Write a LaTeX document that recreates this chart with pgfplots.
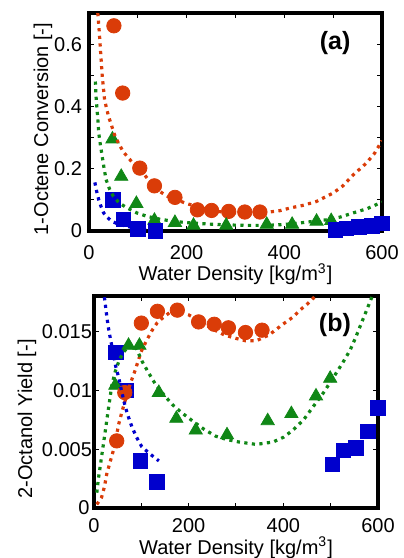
\documentclass[border=0pt]{standalone}
\usepackage{fontspec}
\setmainfont{Liberation Sans}
\usepackage{pgfplots}
\pgfplotsset{compat=1.18}

\definecolor{cred}{RGB}{218,60,8}
\definecolor{cgreen}{RGB}{16,135,22}
\definecolor{cblue}{RGB}{0,0,205}

\pgfplotsset{
  panel/.style={
    scale only axis,
    anchor=south west,
    xmin=0, xmax=600,
    axis line style={line width=2pt},
    tick style={line width=0.5pt, black},
    major tick length=2.6pt, minor tick length=2.6pt,
    tick align=inside,
    xtick={0,200,400,600}, minor xtick={100,300,500},
    xticklabels={0,200,400,600},
    scaled y ticks=false,
    /pgf/number format/assume math mode=true,
    tick label style={font=\fontsize{10}{12}\selectfont},
    label style={font=\fontsize{10.3}{12}\selectfont},
    clip mode=individual,
    xlabel={Water Density [kg/m\textsuperscript{3}]},
  },
  dotline/.style={line width=1.6pt, dash pattern=on 1.6pt off 2.2pt, no markers},
  rc/.style={only marks, mark=*, mark size=3.6pt, color=cred},
  gt/.style={only marks, mark=triangle*, mark size=3.8pt, color=cgreen},
  bs/.style={only marks, mark=square*, mark size=3.6pt, color=cblue},
}

\begin{document}
\begin{tikzpicture}
\path[use as bounding box] (0,0) rectangle (201.5pt,-279pt);

% ---------- (a) ----------
\begin{axis}[panel,
  at={(44.5pt,-115.5pt)}, width=146.5pt, height=109pt,
  ymin=0, ymax=0.7,
  ytick={0,0.2,0.4,0.6}, minor ytick={0.1,0.3,0.5},
  yticklabels={0,0.2,0.4,0.6},
  xticklabel style={anchor=north, yshift=-3.8pt},
  ylabel={1-Octene Conversion [-]},
  every axis y label/.style={at={(axis description cs:-0.157,0.468)}, rotate=90, anchor=center},
  every axis x label/.style={at={(axis description cs:0.5,-0.229)}, anchor=base},
]
\addplot[rc] coordinates {(51,0.659) (69,0.443) (104,0.202) (134,0.145) (176,0.108)
  (222,0.068) (251,0.066) (286,0.063) (319,0.061) (350,0.061)};
\addplot[gt] coordinates {(48,0.295) (66,0.175) (97,0.088) (134,0.034) (176,0.027)
  (214,0.018) (281,0.018) (364,0.021) (416,0.021) (466,0.031) (496,0.033)};
\addplot[bs] coordinates {(49,0.10) (71,0.038) (100,0.007) (136,0.0)
  (504,0.004) (527,0.009) (553,0.013) (579,0.017) (600,0.024)};
\addplot[dotline, cred] coordinates {(18,0.70) (21,0.64) (23,0.593) (27,0.50) (32,0.42)
  (40,0.368) (46,0.34) (52,0.31) (61,0.28) (70,0.255) (81,0.234) (92,0.215) (105,0.197)
  (120,0.168) (139,0.133) (160,0.112) (180,0.10) (200,0.088) (221,0.079) (240,0.070)
  (262,0.063) (290,0.059) (320,0.058) (364,0.060) (390,0.065) (412,0.074) (440,0.083)
  (466,0.095) (500,0.122) (520,0.145) (541,0.18) (568,0.218) (585,0.25) (600,0.29)};
\addplot[dotline, cgreen] coordinates {(13,0.48) (14,0.44) (16,0.40) (18,0.36) (20,0.314)
  (23,0.28) (27,0.24) (31,0.20) (35,0.165) (42,0.135) (50,0.111) (62,0.09) (78,0.074)
  (98,0.058) (119,0.047) (145,0.038) (173,0.031) (200,0.027) (228,0.024) (260,0.021)
  (296,0.019) (330,0.018) (364,0.018) (400,0.021) (432,0.026) (460,0.031) (487,0.036)
  (515,0.045) (541,0.058) (570,0.072) (596,0.09) (600,0.093)};
\addplot[dotline, cblue] coordinates {(12,0.156) (16,0.125) (20,0.10) (25,0.077) (30,0.058)
  (38,0.043) (47,0.031) (60,0.022) (78,0.015) (95,0.009) (112,0.004) (130,0.001) (140,0.0)};
\node[font=\bfseries\fontsize{12.5}{14}\selectfont] at (axis cs:504,0.603) {(a)};
\end{axis}

% ---------- (b) ----------
\begin{axis}[panel,
  at={(47pt,-254pt)}, width=142pt, height=106pt,
  ymin=0, ymax=0.018,
  ytick={0,0.005,0.01,0.015},
  yticklabels={0\kern1.2pt,0.005,0.01,0.015},
  xticklabel style={anchor=north, yshift=-1.8pt},
  yticklabel style={anchor=east, xshift=2.5pt},
  ylabel={2-Octanol Yield [-]},
  every axis y label/.style={at={(axis description cs:-0.236,0.42)}, rotate=90, anchor=center},
  every axis x label/.style={at={(axis description cs:0.5,-0.217)}, anchor=base},
]
\addplot[bs] coordinates {(46,0.0132) (68,0.0100) (98,0.0040) (133,0.0022)
  (504,0.0037) (527,0.0049) (553,0.0051) (579,0.0065) (600,0.0085)};
\addplot[gt] coordinates {(45,0.0104) (73,0.0138) (96,0.0138) (137,0.0098) (174,0.0076)
  (215,0.0066) (281,0.0062) (367,0.0074) (417,0.0080) (469,0.0095) (499,0.0110)};
\addplot[rc] coordinates {(48,0.0057) (65,0.0098) (100,0.0157) (134,0.0167) (176,0.0168)
  (221,0.0158) (254,0.0156) (284,0.0153) (320,0.0149) (355,0.0151)};
\addplot[dotline, cred] coordinates {(6,0.0003) (16,0.0009) (22,0.0018) (27,0.0029) (34,0.0039)
  (41,0.0049) (47,0.006) (52,0.0071) (60,0.0083) (70,0.0097) (78,0.0107) (87,0.0117)
  (95,0.0127) (101,0.0134) (112,0.0143) (123,0.0151) (133,0.0157) (144,0.0161) (160,0.0166)
  (179,0.0167) (200,0.0164) (222,0.0159) (250,0.0152) (275,0.0147) (300,0.0144)
  (320,0.0142) (343,0.0142) (370,0.0147) (399,0.0156) (420,0.0162) (435,0.0168)
  (450,0.0173) (463,0.0178) (470,0.0181)};
\addplot[dotline, cgreen] coordinates {(6,0.0013) (9,0.0024) (13,0.0035) (18,0.0049) (23,0.0063)
  (30,0.0083) (38,0.0105) (45,0.0116) (52,0.0124) (60,0.0131) (70,0.0136) (80,0.0139)
  (90,0.0135) (101,0.0125) (115,0.0115) (130,0.0105) (148,0.0096) (165,0.0088) (185,0.0081)
  (208,0.0074) (232,0.0067) (257,0.0061) (282,0.0058) (307,0.0056) (343,0.0054) (378,0.0056)
  (400,0.006) (420,0.0066) (443,0.0075) (463,0.0086) (485,0.0098) (506,0.0111) (525,0.0123)
  (541,0.0134) (552,0.0144) (562,0.0154) (574,0.0166) (584,0.0176) (590,0.0182)};
\addplot[dotline, cblue] coordinates {(22,0.0179) (26,0.0166) (30,0.0154) (35,0.0143) (41,0.0131)
  (46,0.012) (52,0.0111) (59,0.0098) (66,0.0086) (73,0.0077) (80,0.0069) (90,0.006)
  (101,0.0052) (118,0.0046) (137,0.004)};
\node[font=\bfseries\fontsize{12.5}{14}\selectfont] at (axis cs:509,0.0155) {(b)};
\end{axis}
\end{tikzpicture}
\end{document}
